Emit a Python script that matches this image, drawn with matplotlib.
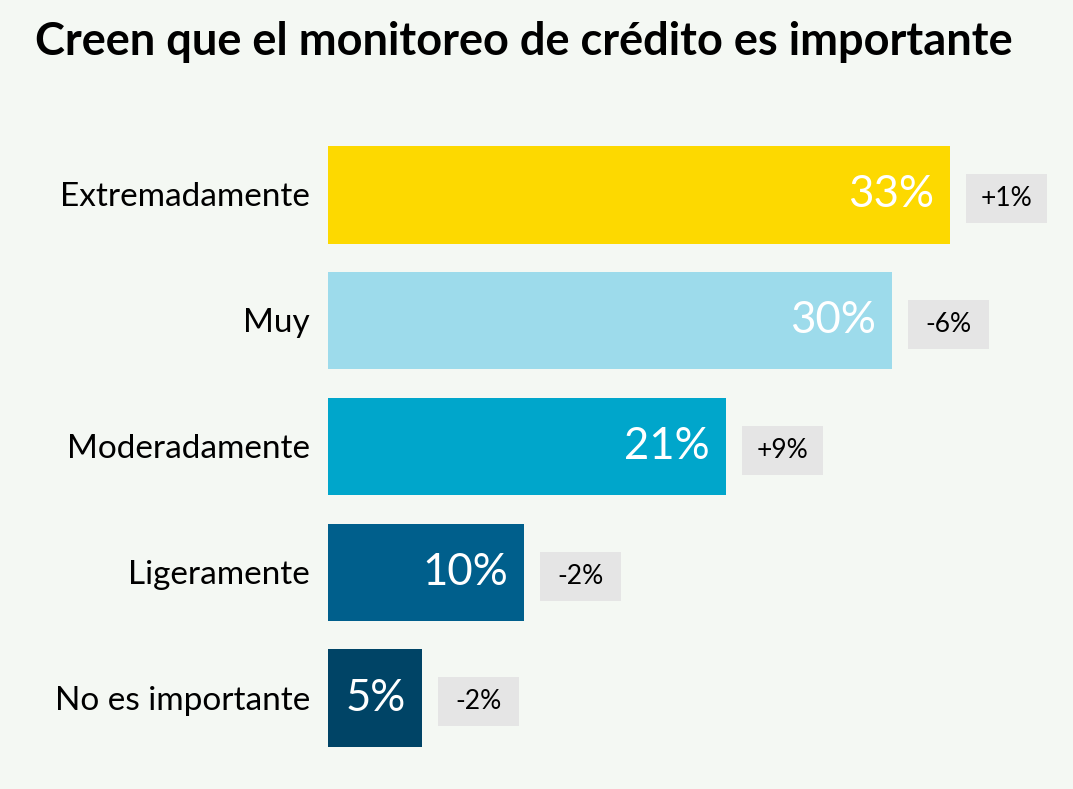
import matplotlib.pyplot as plt
from matplotlib.patches import Rectangle

# data
categories = ["Extremadamente", "Muy", "Moderadamente", "Ligeramente", "No es importante"]
values = [33, 29.9, 21.1, 10.4, 5.0]
value_labels = ["33%", "30%", "21%", "10%", "5%"]
changes = ["+1%", "-6%", "+9%", "-2%", "-2%"]
colors = ["#FDD900", "#9DDBEB", "#00A6CB", "#005F8C", "#004466"]

bg = "#F4F8F3"
plt.rcParams['font.family'] = ['Lato', 'DejaVu Sans']

fig = plt.figure(figsize=(10.73, 7.89), dpi=100, facecolor=bg)
W, H = 1073, 789
ax = fig.add_axes([328 / W, 1 - 761 / H, 745 / W, 629 / H])
ax.set_facecolor(bg)

px = 745 / 39.5  # pixels per unit
ax.barh(range(len(categories)), values, height=0.775, color=colors)
ax.set_xlim(0, 39.5)
ax.set_ylim(4.5, -0.5)
ax.axis("off")

for i, (cat, v, lab, ch) in enumerate(zip(categories, values, value_labels, changes)):
    ax.text(-18 / px, i + 0.02, cat, ha="right", va="center", fontsize=24, color="black")
    ax.text(v - 16 / px, i, lab, ha="right", va="center", fontsize=31.5, color="white")
    bx = v + 16 / px
    bw = 81 / px
    ax.add_patch(Rectangle((bx, i - 0.165), bw, 0.39, color="#E5E5E5", lw=0))
    ax.text(bx + bw / 2, i + 0.03, ch, ha="center", va="center", fontsize=19, color="black")

fig.text(35 / W, 1 - 42 / H, "Creen que el monitoreo de crédito es importante",
         ha="left", va="center", fontsize=32.5, fontweight="bold", color="black")

fig.savefig("out.png", dpi=100, facecolor=bg)
